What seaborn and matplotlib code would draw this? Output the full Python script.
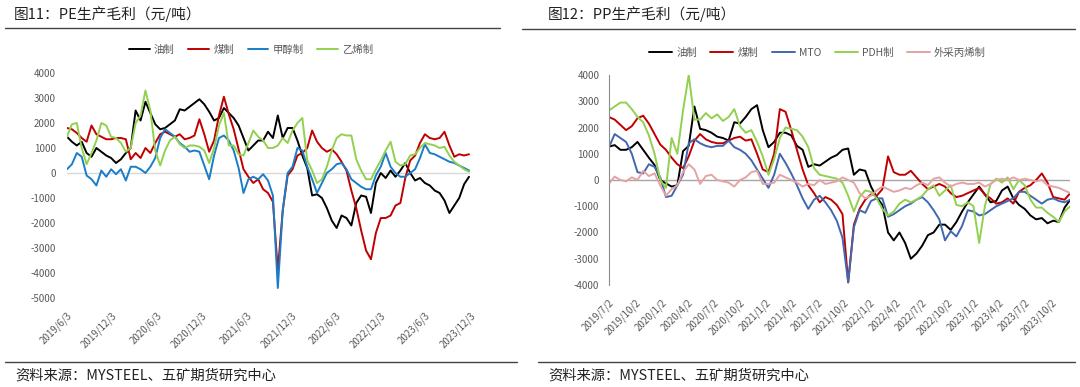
import pandas as pd
import matplotlib.pyplot as plt
import seaborn as sns
from matplotlib.lines import Line2D

sns.set_style('white')
plt.rcParams['font.family'] = ['Noto Sans CJK SC', 'DejaVu Sans']
plt.rcParams['axes.unicode_minus'] = False

# ---- PE gross margin (yuan/t), one reading every 20 days from 2019-06-03 ----
pe_start = '2019-06-03'
pe_oil = [1450, 1250, 1100, 1250, 800, 650, 1000, 850, 700, 600,
          400, 550, 800, 1000, 2500, 2100, 2850, 2400, 1950, 1750,
          1800, 1950, 2100, 2550, 2500, 2650, 2800, 2950, 2750, 2450,
          2100, 2200, 2600, 2400, 2200, 1900, 1400, 900, 1100, 1300,
          1300, 1650, 1400, 2300, 1400, 1800, 1800, 1300, 700, 200,
          -900, -850, -1000, -1400, -1900, -2200, -1700, -1800, -2100, -1200,
          -900, -950, -1600, -400, 0, -200, 100, -150, 100, 400,
          0, -300, -200, -400, -500, -700, -800, -1100, -1600, -1300,
          -1000, -450, -150]
pe_coal = [1800, 1750, 1600, 1400, 1250, 1900, 1550, 1450, 1350, 1350,
           1400, 1400, 1350, 550, 800, 600, 1000, 800, 1200, 1550,
           1650, 1550, 1450, 1550, 1350, 1400, 1500, 2150, 1550, 850,
           1300, 2300, 3050, 2350, 1750, 950, 150, -150, -400, -250,
           -650, -800, -1150, -3900, -1500, -100, 150, 700, 800, 1000,
           1700, 1250, 1000, 850, 950, 750, 450, 100, -700, -1400,
           -2300, -3100, -3450, -2400, -1800, -1800, -1700, -1300, -1200, -200,
           500, 700, 1200, 1550, 1400, 1350, 1400, 1650, 1100, 650,
           750, 700, 750]
pe_methanol = [150, 350, 800, 650, -100, -250, -500, 100, -150, 150,
               -50, 150, -300, 250, 250, 150, 0, 250, 600, 1400,
               1750, 1600, 1450, 1200, 1050, 850, 900, 850, 300, -250,
               700, 1400, 1500, 1300, 900, 200, -800, -250, -150, -250,
               -50, -300, -900, -4600, -1500, 0, 250, 1000, 900, 250,
               -250, -800, -400, 0, 150, 350, 400, 150, -250, -400,
               -550, -650, -650, -100, 250, 800, 250, 0, -150, -150,
               0, 150, 600, 1150, 800, 750, 650, 550, 450, 400,
               300, 200, 100]
pe_ethylene = [1450, 1950, 2000, 1000, 350, 800, 1300, 2000, 1900, 1450,
               1400, 1200, 850, 1000, 2000, 2300, 3300, 2500, 900, 300,
               900, 1300, 1450, 1150, 1000, 1100, 1100, 1050, 900, 400,
               1000, 1900, 2400, 1100, 1100, 750, 700, 1200, 1700, 1450,
               1300, 1000, 1000, 1100, 1400, 1200, 1700, 2000, 2200, 500,
               100, -400, -250, 250, 900, 1400, 1550, 1500, 1500, 550,
               100, -250, -250, 150, 500, 900, 1250, 450, 300, 350,
               700, 750, 1000, 1200, 1150, 1100, 1000, 1050, 700, 450,
               300, 150, 50]
pe_names = ['油制', '煤制', '甲醇制', '乙烯制']
pe_colors = ['#000000', '#C00000', '#1A7DC8', '#92D050']
pe_ticks = ['2019/6/3', '2019/12/3', '2020/6/3', '2020/12/3', '2021/6/3',
            '2021/12/3', '2022/6/3', '2022/12/3', '2023/6/3', '2023/12/3']

# ---- PP gross margin (yuan/t), one reading every 20 days from 2019-07-02 ----
pp_start = '2019-07-02'
pp_oil = [1270, 1330, 1150, 1150, 1250, 1450, 1150, 850, 570, 0,
          -130, -250, -200, 1100, 1300, 2800, 1950, 1900, 1800, 1650,
          1600, 1500, 2200, 2150, 2400, 2700, 2850, 1900, 1250, 1450,
          1800, 1800, 1700, 1300, 1150, 500, 600, 550, 700, 850,
          950, 1150, 1200, 200, 400, 350, -250, -650, -950, -2000,
          -2300, -2000, -2400, -3000, -2800, -2500, -2100, -2000, -1700, -1700,
          -1900, -1600, -1200, -850, -550, -250, -550, -850, -800, -400,
          -250, -700, -950, -1100, -1350, -1500, -1450, -1650, -1550, -1600,
          -1050, -750]
pp_coal = [2400, 2300, 2100, 1900, 2050, 2350, 2450, 2150, 1750, 1350,
           1150, 850, 600, 450, 900, 1500, 1750, 1550, 1450, 1400,
           1400, 1500, 1600, 1650, 1500, 1550, 1000, 400, 300, 1000,
           2700, 2600, 1900, 1150, 400, -200, -500, -850, -650, -750,
           -950, -1300, -3900, -1700, -1100, -750, -550, -600, -350, 900,
           300, 200, 200, 350, 100, -150, -350, -250, -150, -250,
           -500, -650, -600, -500, -400, -300, -550, -700, -900, -850,
           -700, -900, -450, -300, -200, 0, 250, -100, -650, -700,
           -750, -500]
pp_mto = [1250, 1750, 1600, 1450, 1000, 300, 250, 600, 500, 100,
          -650, -600, -200, 200, 1400, 1550, 1400, 1300, 1250, 1300,
          1300, 1500, 1250, 1150, 1000, 750, 400, 50, -300, 200,
          1000, 650, 250, -200, -700, -1100, -750, -600, -850, -1150,
          -1550, -2200, -3900, -1800, -1150, -1250, -800, -700, -700, -1400,
          -1300, -1150, -1000, -900, -750, -650, -850, -1150, -1500, -2300,
          -1950, -2150, -1750, -1150, -1200, -1350, -1300, -1150, -1000, -900,
          -800, -700, -450, -450, -600, -750, -900, -750, -700, -800,
          -850, -750]
pp_pdh = [2650, 2800, 2950, 2950, 2700, 2400, 2200, 1700, 1000, 0,
          -300, 1600, 1000, 2650, 4000, 2300, 2300, 2550, 2350, 2500,
          2250, 2400, 2700, 2050, 1800, 1900, 1450, 900, 200, 800,
          1600, 2000, 1950, 1900, 1650, 1250, 450, 200, 150, 100,
          50, -100, -600, -1200, -650, -400, -450, -700, -1100, -1350,
          -1200, -900, -750, -850, -750, -600, -350, -200, -600, -400,
          -200, -950, -1000, -850, -1000, -2400, -1000, -150, 50, -100,
          100, -350, 0, -200, -750, -1050, -1050, -1250, -1400, -1600,
          -1200, -1000]
pp_propylene = [-130, 130, 0, -50, 100, 0, 350, 150, 250, -200,
                -600, -350, -200, 300, 600, 400, -150, 150, 200, 0,
                -50, -100, -250, 0, 100, 300, 350, -150, -150, -100,
                200, 100, 0, -100, -250, -150, -200, 0, -150, -100,
                -50, 100, 0, -100, -500, -700, -600, -400, -250, -350,
                -450, -400, -300, -350, -200, -100, -200, 50, 100, -100,
                -250, -150, -100, -150, -150, -100, -250, -150, 0, 50,
                0, 100, 0, 50, 0, -50, 0, -200, -250, -300,
                -400, -500]
pp_names = ['油制', '煤制', 'MTO', 'PDH制', '外采丙烯制']
pp_colors = ['#000000', '#C00000', '#4068B0', '#92D050', '#E6A3A3']
pp_ticks = ['2019/7/2', '2019/10/2', '2020/1/2', '2020/4/2', '2020/7/2',
            '2020/10/2', '2021/1/2', '2021/4/2', '2021/7/2', '2021/10/2',
            '2022/1/2', '2022/4/2', '2022/7/2', '2022/10/2', '2023/1/2',
            '2023/4/2', '2023/7/2', '2023/10/2']


def long_frame(start, names, series):
    dates = pd.date_range(start, periods=len(series[0]), freq='20D')
    parts = [pd.DataFrame({'date': dates, 'value': vals, 'series': name})
             for name, vals in zip(names, series)]
    return pd.concat(parts, ignore_index=True)


pe_df = long_frame(pe_start, pe_names, [pe_oil, pe_coal, pe_methanol, pe_ethylene])
pp_df = long_frame(pp_start, pp_names, [pp_oil, pp_coal, pp_mto, pp_pdh, pp_propylene])

fig = plt.figure(figsize=(10.8, 3.87), dpi=100)
W, H = 1080, 387


def px_axes(x0, y0, x1, y1):
    return fig.add_axes([x0 / W, 1 - y1 / H, (x1 - x0) / W, (y1 - y0) / H])


label_grey = '#595959'

# ---------------- left: PE ----------------
ax1 = px_axes(67, 73, 470, 298)
sns.lineplot(data=pe_df, x='date', y='value', hue='series', hue_order=pe_names,
             palette=pe_colors, linewidth=1.4, ax=ax1)
ax1.axhline(0, color='#d9d9d9', lw=1, zorder=0)
ax1.set_ylim(-5000, 4000)
ax1.set_yticks(range(-5000, 4001, 1000))
ax1.set_xlim(pd.Timestamp('2019-06-03'), pd.Timestamp('2023-12-03'))
ax1.set_xticks(pd.to_datetime(pe_ticks, format='%Y/%m/%d'))
ax1.set_xticklabels(pe_ticks, rotation=45, ha='right', rotation_mode='anchor')
ax1.tick_params(axis='both', length=0, labelsize=7, labelcolor=label_grey)
ax1.tick_params(axis='y', pad=8)
ax1.tick_params(axis='x', pad=9)
for s in ax1.spines.values():
    s.set_visible(False)
ax1.set_xlabel('')
ax1.set_ylabel('')
sns.move_legend(ax1, 'center', bbox_to_anchor=(0.457, 1.102), ncol=4, frameon=False,
                title=None, fontsize=7.5, handlelength=2.0, columnspacing=1.3,
                handletextpad=0.4)
for t in ax1.get_legend().get_texts():
    t.set_color(label_grey)

# ---------------- right: PP ----------------
ax2 = px_axes(609, 75, 1070, 285)
sns.lineplot(data=pp_df, x='date', y='value', hue='series', hue_order=pp_names,
             palette=pp_colors, linewidth=1.4, ax=ax2)
ax2.axhline(0, color='#a6a6a6', lw=1, zorder=0)
ax2.set_ylim(-4000, 4000)
ax2.set_yticks(range(-4000, 4001, 1000))
ax2.set_xlim(pd.Timestamp('2019-07-02'), pd.Timestamp('2023-12-07'))
ax2.set_xticks(pd.to_datetime(pp_ticks, format='%Y/%m/%d'))
ax2.set_xticklabels(pp_ticks, rotation=45, ha='right', rotation_mode='anchor')
ax2.tick_params(axis='x', length=0, pad=9, labelsize=7, labelcolor=label_grey)
ax2.tick_params(axis='y', length=3, color='#8c8c8c', width=0.8, pad=4,
                labelsize=7, labelcolor=label_grey)
for name, s in ax2.spines.items():
    s.set_visible(name == 'left')
ax2.spines['left'].set_color('#8c8c8c')
ax2.spines['left'].set_linewidth(0.8)
ax2.set_xlabel('')
ax2.set_ylabel('')
sns.move_legend(ax2, 'center', bbox_to_anchor=(0.452, 1.105), ncol=5, frameon=False,
                title=None, fontsize=7.5, handlelength=2.2, columnspacing=1.3,
                handletextpad=0.4)
for t in ax2.get_legend().get_texts():
    t.set_color(label_grey)

# ---------------- titles, rules, sources ----------------
title_color = '#222222'
fig.text(14 / W, 1 - 14 / H, '图11：PE生产毛利（元/吨）', fontsize=10.6,
         fontweight='medium', color=title_color, va='center', ha='left')
fig.text(548 / W, 1 - 14 / H, '图12：PP生产毛利（元/吨）', fontsize=10.6,
         fontweight='medium', color=title_color, va='center', ha='left')
fig.add_artist(Line2D([5 / W, 500 / W], [1 - 28 / H] * 2, color='#444444', lw=1))
fig.add_artist(Line2D([522 / W, 1075 / W], [1 - 29 / H] * 2, color='#444444', lw=1))
fig.add_artist(Line2D([5 / W, 517 / W], [1 - 362 / H] * 2, color='#444444', lw=1))
fig.add_artist(Line2D([538 / W, 1075 / W], [1 - 362 / H] * 2, color='#444444', lw=1))
fig.text(15 / W, 1 - 376 / H, '资料来源：MYSTEEL、五矿期货研究中心', fontsize=10.3,
         fontweight='medium', color=title_color, va='center', ha='left')
fig.text(548 / W, 1 - 376 / H, '资料来源：MYSTEEL、五矿期货研究中心', fontsize=10.3,
         fontweight='medium', color=title_color, va='center', ha='left')

fig.savefig('out.png', dpi=100)
